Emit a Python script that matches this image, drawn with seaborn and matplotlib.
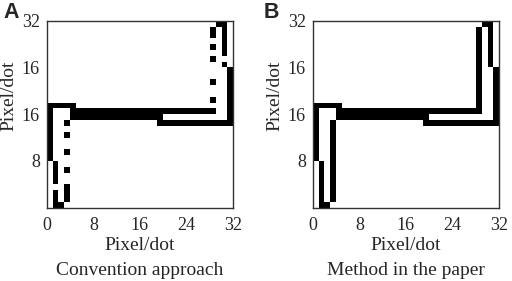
import numpy as np
import matplotlib
matplotlib.use("Agg")
import matplotlib.pyplot as plt
from matplotlib.colors import ListedColormap
import seaborn as sns

# ---- data: 32x32 binary pixel images, black blocks as (row0, row1, col0, col1), rows counted from top ----
grid_size = 32
conv_blocks = [
    (0, 0, 29, 30), (1, 2, 28, 28), (1, 5, 30, 30), (4, 4, 28, 28), (6, 6, 28, 28),
    (7, 7, 30, 30), (10, 10, 28, 28), (13, 13, 28, 28), (8, 17, 31, 31),
    (14, 14, 0, 4), (14, 23, 0, 0), (15, 15, 4, 28), (16, 16, 4, 19), (17, 17, 19, 31),
    (17, 17, 3, 3), (19, 19, 3, 3), (22, 22, 3, 3), (25, 25, 3, 3), (28, 30, 3, 3),
    (24, 27, 1, 1), (29, 31, 1, 1), (31, 31, 2, 2),
]
paper_blocks = [
    (0, 0, 29, 30), (1, 15, 28, 28), (0, 7, 30, 30), (8, 17, 31, 31),
    (14, 14, 0, 4), (14, 23, 0, 0), (15, 15, 4, 28), (16, 16, 4, 19), (17, 17, 19, 31),
    (17, 30, 3, 3), (24, 31, 1, 1), (31, 31, 2, 2),
]
x_ticks = [0, 8, 16, 24, 32]
x_ticklabels = ["0", "8", "16", "24", "32"]
y_ticks = [32, 24, 16, 8]
y_ticklabels = ["32", "16", "16", "8"]
panel_letters = ["A", "B"]
captions = ["Convention approach", "Method in the paper"]
axis_label = "Pixel/dot"


def build(blocks):
    g = np.zeros((grid_size, grid_size))
    for r0, r1, c0, c1 in blocks:
        g[r0:r1 + 1, c0:c1 + 1] = 1
    return g


sns.set_style("white")
plt.rcParams["font.family"] = ["Liberation Serif", "DejaVu Serif"]

fig = plt.figure(figsize=(5.12, 2.81), dpi=100)
W, H = 512.0, 281.0
ax_specs = [(46.7, 3), (312.7, 264)]
cmap = ListedColormap(["white", "black"])

for i, (blocks, (left_px, letter_x)) in enumerate(zip([conv_blocks, paper_blocks], ax_specs)):
    ax = fig.add_axes([left_px / W, 1 - 207.7 / H, 186.5 / W, 187 / H])
    sns.heatmap(build(blocks), ax=ax, cmap=cmap, vmin=0, vmax=1, cbar=False,
                xticklabels=False, yticklabels=False)
    for s in ax.spines.values():
        s.set_visible(True)
        s.set_color("#333333")
        s.set_linewidth(1.0)
    ax.set_xticks(x_ticks)
    ax.set_xticklabels(x_ticklabels, fontsize=13)
    # heatmap y axis runs top->bottom: data value v sits at grid_size - v
    ax.set_yticks([grid_size - v for v in y_ticks])
    ax.set_yticklabels(y_ticklabels, fontsize=13, rotation=0)
    ax.tick_params(direction="in", length=4, width=0.8, color="#333333", pad=5)
    ax.tick_params(axis="x", pad=7)
    ax.set_xlabel(axis_label, fontsize=14)
    ax.xaxis.set_label_coords(0.5, -0.155)
    ax.set_ylabel(axis_label, fontsize=14)
    ax.yaxis.set_label_coords(-0.155, 0.6)
    ax.text(0.5, -0.29, captions[i], transform=ax.transAxes, ha="center", va="top",
            fontsize=14)
    fig.text(letter_x / W, 1 - 2 / H, panel_letters[i], ha="left", va="top",
             fontsize=15.5, fontweight="bold", family=["Liberation Sans", "DejaVu Sans"])

fig.savefig("out.png", dpi=100)
